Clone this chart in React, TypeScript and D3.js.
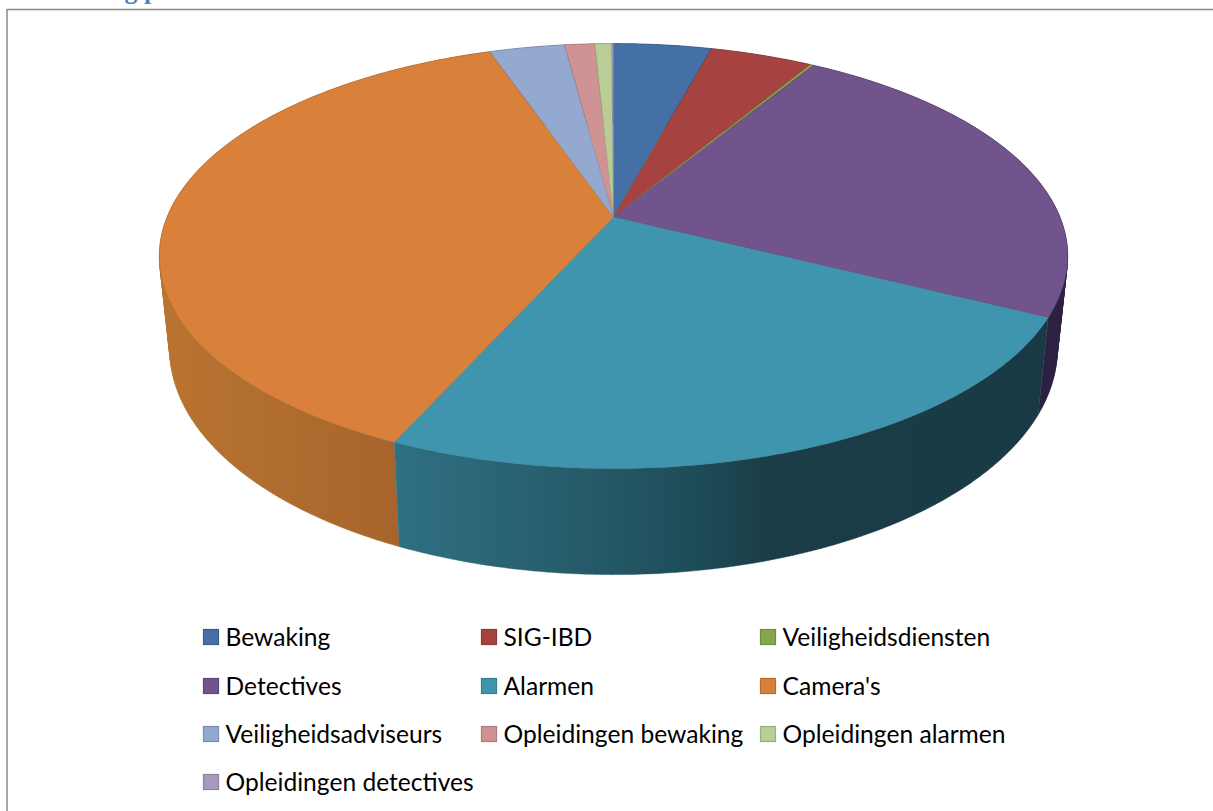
import React from "react";
import * as d3 from "d3";

const categories = ["Bewaking","SIG-IBD","Veiligheidsdiensten","Detectives","Alarmen","Camera's","Veiligheidsadviseurs","Opleidingen bewaking","Opleidingen alarmen","Opleidingen detectives"];
const shares = [4.16,4.37,0.15,23.75,24.27,38.03,3.2,1.28,0.72,0.07];
const topColors = ["#4470a5","#a64340","#87a54a","#71548b","#4095ae","#d9813a","#93a9cf","#d09393","#b9cd96","#a99bbd"];
const wallStops: [number, string][][] = [
  [[0,"#2a4566"],[1,"#2a4566"]],[[0,"#662a28"],[1,"#662a28"]],[[0,"#55672e"],[1,"#55672e"]],[[0,"#2c2140"],[1,"#2c2140"]],
  [[0,"#2f7083"],[0.3,"#255a68"],[0.47,"#1e4b58"],[0.575,"#1a3d47"],[1,"#193a45"]],
  [[0,"#b97431"],[0.5,"#ad6a2e"],[1,"#a05c29"]],
  [[0,"#5b6980"],[1,"#5b6980"]],[[0,"#815b5b"],[1,"#815b5b"]],[[0,"#73805d"],[1,"#73805d"]],[[0,"#695f75"],[1,"#695f75"]],
];
const legendColumns = [203,481,760];
const legendRows = [637,686,734,782];

const W = 1213, H = 811;
const cx = 613.5, cy = 217, A = 446.4, B = 205.3, k = 0.184;

const project = (a: number): [number, number] => {
  const u = Math.sin(a), v = -Math.cos(a), w = 1 - k * v;
  return [cx + (A * u) / w, cy + (B * v) / w];
};
const lower = (p: [number, number]): [number, number] => [
  cx + (p[0] - cx) * 0.977,
  p[1] + 97 + (p[1] - 318) * 0.06,
];

const arcs = d3.pie<number>().sort(null).startAngle(0).endAngle(2 * Math.PI)(shares);

const sample = (a0: number, a1: number) => {
  const n = Math.max(2, Math.ceil((a1 - a0) / 0.01));
  return d3.range(n + 1).map((i) => project(a0 + ((a1 - a0) * i) / n));
};
const line = d3.line();
const slicePath = (a0: number, a1: number) => line([[cx, cy], ...sample(a0, a1)])! + "Z";
const wallPath = (a0: number, a1: number) => {
  const t = sample(a0, a1);
  return d3.range(t.length - 1).map((j) => {
    const quad: [number, number][] = [t[j], t[j + 1], lower(t[j + 1]), lower(t[j])];
    if (d3.polygonArea(quad) < 0) quad.reverse();
    return line(quad)! + "Z";
  }).join("");
};
const wallOrder = arcs
  .map((d, i) => ({ i, a0: d.startAngle, a1: d.endAngle }))
  .sort((p, q) => -Math.cos((p.a0 + p.a1) / 2) - -Math.cos((q.a0 + q.a1) / 2));

export default function App() {
  return (
    <svg width={W} height={H} viewBox={`0 0 ${W} ${H}`} style={{ position: "absolute", left: 0, top: 0, background: "#fff" }}>
      <defs>
        {arcs.map((d, i) => {
          const ext = d3.extent(sample(d.startAngle, d.endAngle).map((p) => p[0])) as [number, number];
          return (
            <linearGradient key={i} id={`w${i}`} gradientUnits="userSpaceOnUse" x1={ext[0]} x2={ext[1]} y1={0} y2={0}>
              {wallStops[i].map(([o, c], j) => (
                <stop key={j} offset={o} stopColor={c} />
              ))}
            </linearGradient>
          );
        })}
      </defs>
      <text x={110} y={-1.5} fontFamily="'Liberation Serif'" fontWeight="bold" fontSize={26} fill="#4f81bd">ng p</text>
      <line x1={7} x2={W} y1={9.5} y2={9.5} stroke="#8a8a8a" strokeWidth={1.5} />
      <line x1={7} x2={7} y1={9} y2={H} stroke="#8a8a8a" strokeWidth={1.5} />
      {wallOrder.map(({ i, a0, a1 }) => (
        <path key={i} d={wallPath(a0, a1)} fill={`url(#w${i})`} stroke={`url(#w${i})`} strokeWidth={0.4} />
      ))}
      {arcs.map((d, i) => (
        <path key={i} d={slicePath(d.startAngle, d.endAngle)} fill={topColors[i]} stroke={d3.color(topColors[i])!.darker(0.7).formatHex()} strokeOpacity={0.55} strokeWidth={0.8} />
      ))}
      {categories.map((c, i) => {
        const x = legendColumns[i % 3];
        const y = legendRows[Math.floor(i / 3)];
        return (
          <g key={c}>
            <rect x={x + 0.5} y={y - 7.5} width={15} height={15} fill={topColors[i]} stroke={d3.color(topColors[i])!.darker(0.5).formatHex()} strokeWidth={1.2} />
            <text x={x + 22.5} y={y + 9} fontFamily="Lato" fontSize={24.6} fill="#000">{c}</text>
          </g>
        );
      })}
    </svg>
  );
}
